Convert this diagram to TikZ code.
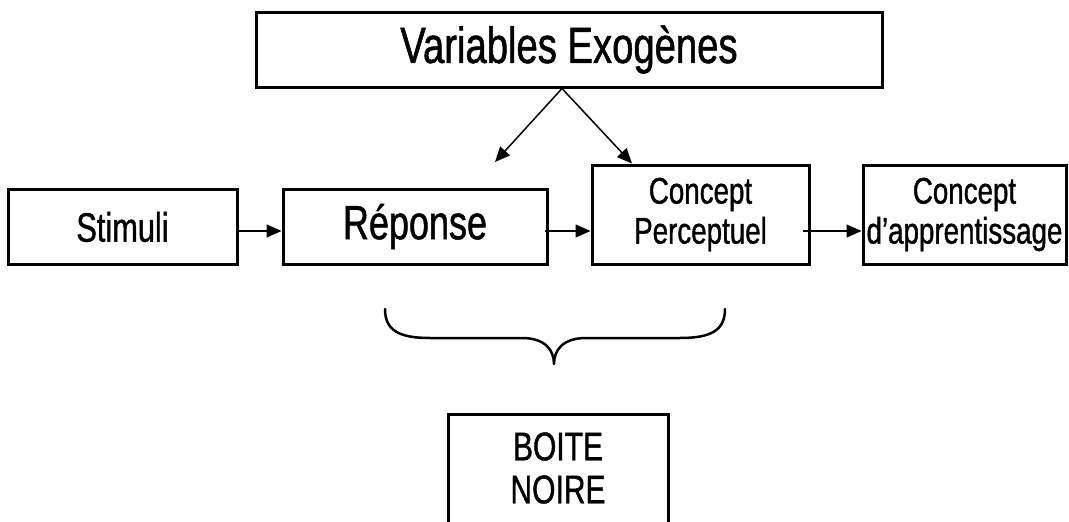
\documentclass[tikz,border=0pt]{standalone}
\usepackage{fontspec}
\setmainfont{Liberation Sans}[FakeStretch=0.75,FakeBold=1]
\usetikzlibrary{arrows.meta}
\begin{document}
\begin{tikzpicture}[x=1pt,y=-1pt,
  box/.style={draw=black, line width=3pt, inner sep=0pt, align=center},
  arr/.style={-{Triangle[length=15pt,width=13pt]}, line width=1.5pt},
  bracestyle/.style={line width=2.5pt, line cap=round, line join=round}
]
\useasboundingbox (0,0) rectangle (1069,522);
\node[box, minimum width=626pt, minimum height=75pt, font=\fontsize{51}{56}\selectfont] (top) at (569,49.5) {Variables Exogènes};
\node[box, minimum width=229pt, minimum height=75pt, font=\fontsize{41}{46}\selectfont] (stim) at (122.5,227) {Stimuli};
\node[box, minimum width=264pt, minimum height=75pt, font=\fontsize{48}{52}\selectfont] (rep) at (415,226.5) {Réponse};
\node[box, minimum width=217pt, minimum height=99pt, font=\fontsize{37}{40}\selectfont] (cp) at (700.5,214.5) {Concept\\Perceptuel};
\node[box, minimum width=203pt, minimum height=99pt, font=\fontsize{37}{40}\selectfont] (ca) at (964.5,214.5) {Concept\\d’apprentissage};
\node[box, minimum width=220pt, minimum height=150pt, anchor=north] (boite) at (558,413) {};
\node[font=\fontsize{40}{43}\selectfont, align=center, inner sep=0pt] (boitetxt) at (558,468) {BOITE\\NOIRE};

\coordinate (ay) at (0,231);
\coordinate (apex) at ([xshift=-7pt]top.south);
\coordinate (tl) at (495,162);
\coordinate (tr) at ([xshift=-68.5pt]cp.north);
\coordinate (r1) at ([xshift=-4pt]rep.east);
\coordinate (c1) at ([xshift=-8pt]cp.east);

\draw[arr] (apex) -- (tl);
\draw[arr] (apex) -- (tr);
\draw[arr] (stim.east |- ay) -- (rep.west |- ay);
\draw[arr] (r1 |- ay) -- (cp.west |- ay);
\draw[arr] (c1 |- ay) -- (ca.west |- ay);

\draw[bracestyle] (385,309) .. controls (385,331) and (400,338) .. (430,338)
  -- (522,338) .. controls (545,338) and (554,350) .. (554,364)
  .. controls (554,350) and (563,338) .. (586,338)
  -- (680,338) .. controls (710,338) and (725,331) .. (725,309);
\end{tikzpicture}
\end{document}
